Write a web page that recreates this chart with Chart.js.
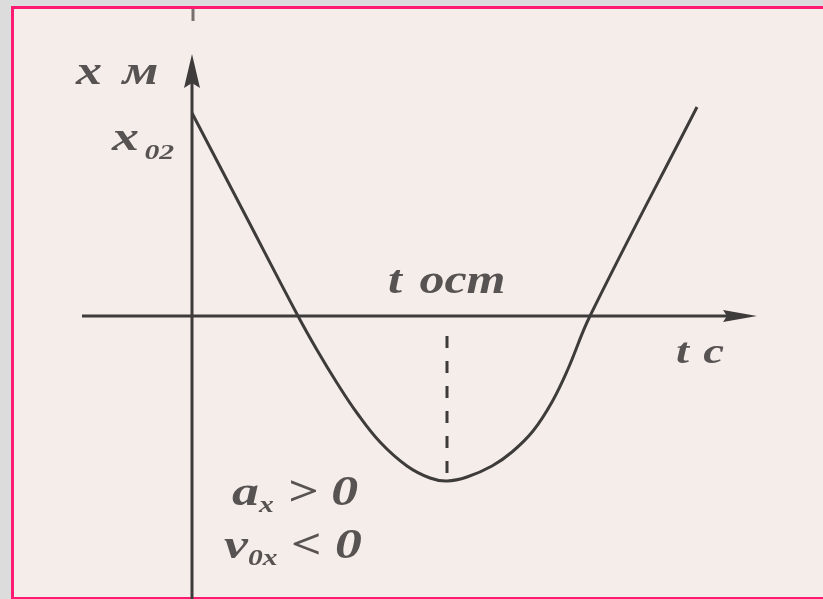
<!DOCTYPE html>
<html>
<head>
<meta charset="utf-8">
<title>x(t)</title>
<script src="https://cdn.jsdelivr.net/npm/chart.js@4.4.1/dist/chart.umd.min.js"></script>
<style>
  html, body { margin: 0; padding: 0; width: 823px; height: 599px; overflow: hidden; background: #dcdcdc; }
  #frame { position: absolute; left: 11px; top: 6px; width: 830px; height: 588px; border: 3px solid #ff1a72; background: #f5ede9; }
  #wrap { position: absolute; left: 0; top: 0; width: 823px; height: 599px; }
  .lbl { position: absolute; font-family: "Liberation Serif", "DejaVu Serif", serif; font-style: italic; font-weight: bold;
         color: #575352; line-height: 1; white-space: nowrap; transform-origin: 0 0; }
  .lbl sub { font-size: 0.55em; vertical-align: baseline; position: relative; top: 0.3em; }
</style>
</head>
<body>
<div id="frame"></div>
<div id="wrap"><canvas id="chart"></canvas></div>

<div class="lbl" style="left:76px;top:51px;font-size:40px;transform:scaleX(1.3);word-spacing:6px;">x м</div>
<div class="lbl" style="left:112px;top:117px;font-size:40px;transform:scaleX(1.35);">x<sub style="top:0.42em;margin-left:4px">02</sub></div>
<div class="lbl" style="left:388px;top:260px;font-size:40px;transform:scaleX(1.25);word-spacing:4px;">t ост</div>
<div class="lbl" style="left:676px;top:333px;font-size:36px;transform:scaleX(1.3);word-spacing:2px;">t с</div>
<div class="lbl" style="left:232px;top:470px;font-size:42px;transform:scaleX(1.28);">a<sub>x</sub> &gt; 0</div>
<div class="lbl" style="left:224px;top:523px;font-size:42px;transform:scaleX(1.28);">v<sub>0x</sub> &lt; 0</div>

<script>
// curve x(t)
const tValues = [0, 1.06, 2.12, 2.5, 2.9, 3.3, 3.76, 4.3, 4.76, 5.1, 5.5, 6.0, 6.4, 6.82, 7.2, 7.52, 7.96, 10.1];
const xValues = [4.06, 2.03, 0, -0.68, -1.34, -1.94, -2.52, -3.0, -3.24, -3.3, -3.22, -3.0, -2.72, -2.3, -1.72, -1.06, 0, 4.18];

// stop time and its dashed guide
const tStop = 5.1;
const guideX = [-0.4, -3.3];

// axes extents (in data units)
const tAxis = [-2.2, 11.3];
const xAxis = [5.24, -5.7];

const tRange = [-3.84, 12.62];
const xRange = [-5.66, 6.32];

const ink = '#3e3b3b';

const curve = tValues.map((t, i) => ({ x: t, y: xValues[i] }));
const guide = guideX.map(v => ({ x: tStop, y: v }));

// draws the arrowed axes through the chart scales
const axesPlugin = {
  id: 'arrowAxes',
  beforeDatasetsDraw(chart) {
    const { ctx, scales: { x, y } } = chart;
    const x0 = x.getPixelForValue(0), y0 = y.getPixelForValue(0);
    const tEnd = x.getPixelForValue(tAxis[1]);
    const yTop = y.getPixelForValue(xAxis[0]);
    ctx.save();
    ctx.strokeStyle = ink; ctx.fillStyle = ink; ctx.lineWidth = 3;
    // t axis
    ctx.beginPath();
    ctx.moveTo(x.getPixelForValue(tAxis[0]), y0);
    ctx.lineTo(tEnd - 20, y0);
    ctx.stroke();
    ctx.beginPath();
    ctx.moveTo(tEnd, y0); ctx.lineTo(tEnd - 34, y0 - 6); ctx.lineTo(tEnd - 30, y0); ctx.lineTo(tEnd - 34, y0 + 6);
    ctx.closePath(); ctx.fill();
    // x axis
    ctx.beginPath();
    ctx.moveTo(x0, y.getPixelForValue(xAxis[1]));
    ctx.lineTo(x0, yTop + 20);
    ctx.stroke();
    ctx.beginPath();
    ctx.moveTo(x0, yTop); ctx.lineTo(x0 - 8, yTop + 34); ctx.lineTo(x0, yTop + 29); ctx.lineTo(x0 + 8, yTop + 34);
    ctx.closePath(); ctx.fill();
    // faint stub above the arrow
    ctx.globalAlpha = 0.7;
    ctx.beginPath();
    ctx.moveTo(x0 + 1, 9); ctx.lineTo(x0 + 1, 21);
    ctx.stroke();
    ctx.restore();
  }
};

new Chart(document.getElementById('chart').getContext('2d'), {
  type: 'line',
  data: {
    datasets: [
      { data: curve, borderColor: ink, borderWidth: 3, pointRadius: 0, tension: 0.4, fill: false },
      { data: guide, borderColor: ink, borderWidth: 3, pointRadius: 0, borderDash: [12, 13], fill: false }
    ]
  },
  options: {
    responsive: true,
    maintainAspectRatio: false,
    animation: false,
    layout: { padding: 0 },
    plugins: { legend: { display: false }, tooltip: { enabled: false } },
    scales: {
      x: { type: 'linear', min: tRange[0], max: tRange[1], display: false },
      y: { type: 'linear', min: xRange[0], max: xRange[1], display: false }
    }
  },
  plugins: [axesPlugin]
});
</script>
</body>
</html>
